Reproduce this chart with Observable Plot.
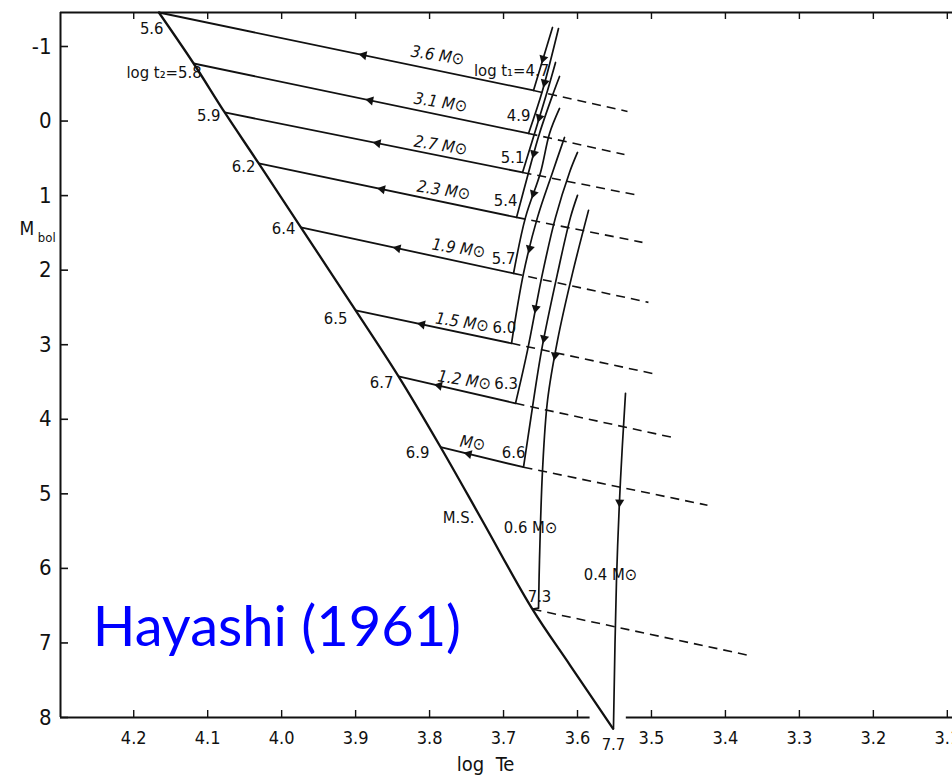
<!DOCTYPE html>
<html>
<head>
<meta charset="utf-8">
<script src="https://cdn.jsdelivr.net/npm/d3@7"></script>
<script src="https://cdn.jsdelivr.net/npm/@observablehq/plot@0.6"></script>
<style>
  html, body { margin: 0; padding: 0; background: #fff; overflow: hidden; }
</style>
</head>
<body>
<div id="chart"></div>
<script>
// Pre-main-sequence evolution tracks in the (log Te, Mbol) plane.

// Stellar masses (solar units), from the most to the least massive
const masses = ["3.6", "3.1", "2.7", "2.3", "1.9", "1.5", "1.2", "1.0", "0.6", "0.4"];

// Main sequence (log Te, Mbol); the first eight points are where the tracks of
// 3.6 ... 1.0 Msun arrive, the tenth is where 0.6 Msun arrives
const msTe   = [4.166, 4.119, 4.077, 4.031, 3.974, 3.900, 3.842, 3.785, 3.729, 3.661, 3.610, 3.552];
const msMbol = [-1.456, -0.772, -0.115, 0.568, 1.426, 2.539, 3.424, 4.375, 5.354, 6.547, 7.300, 8.15];
const msIndex = [0, 1, 2, 3, 4, 5, 6, 7, 9];

// End of the convective (vertical) phase = start of the radiative phase, masses 3.6 ... 0.6
const radEndTe   = [3.6595, 3.6662, 3.6743, 3.6824, 3.6865, 3.6892, 3.6838, 3.6730, 3.6527];
const radEndMbol = [-0.410, 0.166, 0.689, 1.292, 2.043, 2.981, 3.786, 4.643, 6.534];

// Convective (nearly vertical) tracks, one list per mass
const hayashiTe = [
  [3.6338, 3.6595],
  [3.6257, 3.6473, 3.6662],
  [3.6297, 3.6405, 3.6581, 3.6743],
  [3.6243, 3.6324, 3.6514, 3.6662, 3.6824],
  [3.6243, 3.6378, 3.6500, 3.6703, 3.6865],
  [3.6176, 3.6338, 3.6541, 3.6730, 3.6892],
  [3.6000, 3.6108, 3.6297, 3.6473, 3.6676, 3.6838],
  [3.6000, 3.6095, 3.6270, 3.6486, 3.6635, 3.6730],
  [3.5851, 3.6068, 3.6270, 3.6405, 3.6473, 3.6514, 3.6527],
  [3.5351, 3.5419, 3.5473, 3.5514]
];
const hayashiMbol = [
  [-1.255, -0.410],
  [-1.241, -0.410, 0.166],
  [-0.786, -0.410, 0.166, 0.689],
  [-0.598, -0.383, 0.166, 0.689, 1.292],
  [-0.169, 0.166, 0.689, 1.292, 2.043],
  [0.220, 0.689, 1.292, 2.043, 2.981],
  [0.421, 0.689, 1.292, 2.043, 3.075, 3.786],
  [0.997, 1.292, 2.043, 3.075, 4.013, 4.643],
  [1.198, 2.043, 2.941, 3.745, 4.684, 5.890, 6.534],
  [3.651, 4.818, 6.158, 8.15]
];

// Dashed lines: from each radiative-phase start out to these points (masses 3.6 ... 0.6)
const dashStartTe   = [3.6595, 3.6662, 3.6743, 3.6824, 3.6865, 3.6892, 3.6838, 3.6730, 3.6608];
const dashStartMbol = [-0.410, 0.166, 0.689, 1.292, 2.043, 2.981, 3.786, 4.643, 6.547];
const dashEndTe     = [3.5324, 3.5365, 3.5176, 3.5122, 3.5041, 3.4932, 3.4662, 3.4243, 3.3635];
const dashEndMbol   = [-0.129, 0.448, 0.997, 1.627, 2.432, 3.397, 4.255, 5.153, 7.177];

// Direction arrows: log Te on each radiative track, Mbol on each convective track
const radArrowTe = [3.889, 3.880, 3.870, 3.864, 3.843, 3.810, 3.787, 3.747];
const hayArrowMbol = [-0.839, -0.517, -0.048, 0.434, 0.971, 1.708, 2.512, 2.914, 3.142, 5.113];

// Axes
const xTicks = [4.2, 4.1, 4.0, 3.9, 3.8, 3.7, 3.6, 3.5, 3.4, 3.3, 3.2, 3.1];
const yTicks = [-1, 0, 1, 2, 3, 4, 5, 6, 7, 8];
const xDomain = [4.299, 3.093];
const yDomain = [-1.456, 8];
const axisBreak = [3.583, 3.534];

// log t2 (arrival on the main sequence)
const t2Text = ["5.6", "log t\u2082=5.8", "5.9", "6.2", "6.4", "6.5", "6.7", "6.9", "7.3", "7.7"];
const t2Te   = [4.1757, 4.1590, 4.0986, 4.0514, 3.9973, 3.9270, 3.8649, 3.8162, 3.6514, 3.5514];
const t2Mbol = [-1.241, -0.651, -0.075, 0.609, 1.440, 2.646, 3.504, 4.442, 6.386, 8.370];

// log t1 (end of the convective phase)
const t1Text = ["log t\u2081=4.7", "4.9", "5.1", "5.4", "5.7", "6.0", "6.3", "6.6"];
const t1Te   = [3.6892, 3.6797, 3.6878, 3.6973, 3.7000, 3.6990, 3.6965, 3.6865];
const t1Mbol = [-0.678, -0.075, 0.488, 1.064, 1.842, 2.767, 3.517, 4.442];

// Mass labels along the radiative tracks
const massText = ["3.6 M\u2299", "3.1 M\u2299", "2.7 M\u2299", "2.3 M\u2299", "1.9 M\u2299", "1.5 M\u2299", "1.2 M\u2299", "M\u2299"];
const massTe   = [3.7892, 3.7851, 3.7851, 3.7811, 3.7608, 3.7560, 3.7530, 3.7419];
const massMbol = [-0.879, -0.249, 0.327, 0.930, 1.708, 2.700, 3.477, 4.322];
// Mass labels beside the two low-mass vertical tracks
const lowMassText = ["0.6 M\u2299", "0.4 M\u2299"];
const lowMassTe   = [3.6635, 3.5554];
const lowMassMbol = [5.461, 6.091];

const msLabel = ["M.S."];
const msLabelTe = [3.7608];
const msLabelMbol = [5.327];

const creditText = ["Hayashi (1961)"];
const creditTe = [4.2554];
const creditMbol = [6.80];

// ---------------------------------------------------------------------------
const width = 952, height = 781;
const marginLeft = 60, marginRight = 0, marginTop = 12, marginBottom = 64;
const FONT = "'Liberation Sans Narrow', 'DejaVu Sans Condensed', 'Arial Narrow', sans-serif";
const INK = "#111";
const LABEL = 16.5;

// pixel mappings, used only to orient arrowheads and size tick marks
const xs = d3.scaleLinear(xDomain, [marginLeft, width - marginRight]);
const ys = d3.scaleLinear(yDomain, [marginTop, height - marginBottom]);
const angleOf = (t0, m0, t1, m1) =>
  Math.atan2(xs(t1) - xs(t0), -(ys(m1) - ys(m0))) * 180 / Math.PI;
const tickLenY = ys.invert(marginTop + 7) - ys.invert(marginTop);
const tickLenX = xs.invert(marginLeft) - xs.invert(marginLeft + 8);

const msRows = msTe.map((t, i) => ({t, m: msMbol[i]}));

const radRows = msIndex.map((k, i) => ({
  mass: masses[i],
  t1: msTe[k], m1: msMbol[k],
  t2: radEndTe[i], m2: radEndMbol[i]
}));

const hayRows = hayashiTe.flatMap((ts, i) =>
  ts.map((t, j) => ({mass: masses[i], t, m: hayashiMbol[i][j]})));

const dashRows = dashStartTe.map((t, i) => ({
  t1: t, m1: dashStartMbol[i], t2: dashEndTe[i], m2: dashEndMbol[i]
}));

const arrowRows = [];
radArrowTe.forEach((t, i) => {
  const k = msIndex[i];
  const t0 = radEndTe[i], m0 = radEndMbol[i], t1 = msTe[k], m1 = msMbol[k];
  const f = (t - t0) / (t1 - t0);
  arrowRows.push({t, m: m0 + f * (m1 - m0), a: angleOf(t0, m0, t1, m1)});
});
hayArrowMbol.forEach((m, i) => {
  const ts = hayashiTe[i], ms = hayashiMbol[i];
  let j = 0;
  while (j < ms.length - 2 && m > ms[j + 1]) j++;
  const f = (m - ms[j]) / (ms[j + 1] - ms[j]);
  arrowRows.push({
    t: ts[j] + f * (ts[j + 1] - ts[j]), m,
    a: angleOf(ts[j], ms[j], ts[j + 1], ms[j + 1])
  });
});

const zip = (text, te, mb) => text.map((s, i) => ({s, t: te[i], m: mb[i]}));

const chart = Plot.plot({
  width, height, marginLeft, marginRight, marginTop, marginBottom,
  style: {background: "#fff", overflow: "visible"},
  x: {domain: xDomain, axis: null},
  y: {domain: yDomain, reverse: true, axis: null},
  marks: [
    // frame
    Plot.ruleY([yDomain[0]], {stroke: INK, strokeWidth: 2}),
    Plot.ruleX([xDomain[0]], {stroke: INK, strokeWidth: 2}),
    Plot.ruleY([{x1: xDomain[0], x2: axisBreak[0]}, {x1: axisBreak[1], x2: xDomain[1]}],
      {y: () => yDomain[1], x1: "x1", x2: "x2", stroke: INK, strokeWidth: 2}),
    // inward ticks
    Plot.ruleX(xTicks, {x: d => d, y1: yDomain[0], y2: yDomain[0] + tickLenY, stroke: INK, strokeWidth: 1.4}),
    Plot.ruleX(xTicks, {x: d => d, y1: yDomain[1] - tickLenY, y2: yDomain[1], stroke: INK, strokeWidth: 1.4}),
    Plot.ruleY(yTicks, {y: d => d, x1: xDomain[0], x2: xDomain[0] - tickLenX, stroke: INK, strokeWidth: 1.6}),
    // tick labels
    Plot.text(xTicks, {x: d => d, y: yDomain[1], text: d => d.toFixed(1), dy: 21,
      fontSize: 18, fontFamily: FONT, fill: INK}),
    Plot.text(yTicks, {x: xDomain[0], y: d => d, text: d => String(d), dx: -9, textAnchor: "end",
      fontSize: 22, fontFamily: FONT, fill: INK}),
    // axis titles
    Plot.text(["log  Te"], {x: 3.7243, y: 8.638, fontSize: 20, fontFamily: FONT, fill: INK}),
    Plot.text(["M"], {x: 4.3446, y: 1.44, fontSize: 19, fontFamily: FONT, fill: INK}),
    Plot.text(["bol"], {x: 4.3176, y: 1.56, fontSize: 13, fontFamily: FONT, fill: INK}),

    // dashed lines
    Plot.link(dashRows, {x1: "t1", y1: "m1", x2: "t2", y2: "m2",
      stroke: INK, strokeWidth: 1.6, strokeDasharray: "9,6"}),
    // radiative tracks
    Plot.link(radRows, {x1: "t1", y1: "m1", x2: "t2", y2: "m2", stroke: INK, strokeWidth: 1.8}),
    // convective tracks
    Plot.line(hayRows, {x: "t", y: "m", z: "mass", curve: "catmull-rom", stroke: INK, strokeWidth: 1.7}),
    // main sequence
    Plot.line(msRows, {x: "t", y: "m", curve: "catmull-rom", stroke: INK, strokeWidth: 2.3}),
    // arrowheads
    Plot.dot(arrowRows, {x: "t", y: "m", rotate: "a", symbol: "triangle", r: 3.4, fill: INK, stroke: "none"}),

    // labels
    Plot.text(zip(t2Text, t2Te, t2Mbol), {x: "t", y: "m", text: "s", fontSize: LABEL, fontFamily: FONT, fill: INK}),
    Plot.text(zip(t1Text, t1Te, t1Mbol), {x: "t", y: "m", text: "s", fontSize: LABEL, fontFamily: FONT, fill: INK}),
    Plot.text(zip(massText, massTe, massMbol), {x: "t", y: "m", text: "s", rotate: 9, fontStyle: "italic",
      fontSize: LABEL, fontFamily: FONT, fill: INK}),
    Plot.text(zip(lowMassText, lowMassTe, lowMassMbol), {x: "t", y: "m", text: "s",
      fontSize: LABEL, fontFamily: FONT, fill: INK}),
    Plot.text(zip(msLabel, msLabelTe, msLabelMbol), {x: "t", y: "m", text: "s",
      fontSize: LABEL, fontFamily: FONT, fill: INK}),
    Plot.text(zip(creditText, creditTe, creditMbol), {x: "t", y: "m", text: "s", textAnchor: "start",
      fontSize: 56, fontFamily: "Lato, 'Open Sans', sans-serif", fill: "#0000ff"})
  ]
});

document.getElementById("chart").appendChild(chart);
</script>
</body>
</html>
